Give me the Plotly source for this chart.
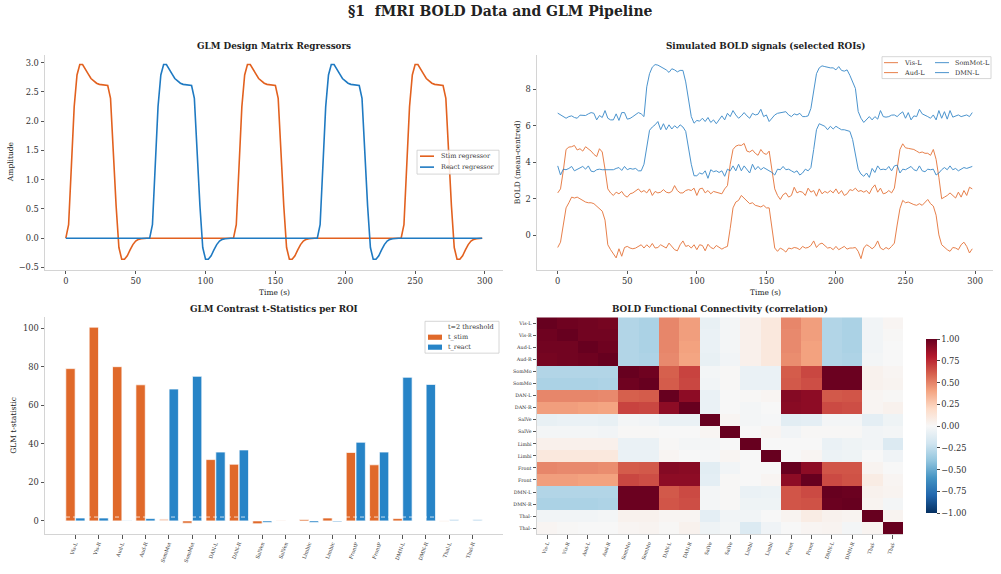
import plotly.graph_objects as go

SERIF = "DejaVu Serif"
W, H = 1001, 574

# ---------------- data ----------------
time_s = list(range(0, 300, 2))

stim_regressor = [
    0.00, 0.23, 1.24, 2.25, 2.79, 2.97, 2.97, 2.90, 2.81, 2.73,
    2.69, 2.65, 2.63, 2.62, 2.61, 2.61, 2.39, 1.45, 0.55, -0.16,
    -0.36, -0.36, -0.30, -0.20, -0.11, -0.05, -0.02, -0.01, 0.00, 0.00,
    0, 0, 0, 0, 0, 0, 0, 0, 0, 0,
    0, 0, 0, 0, 0, 0, 0, 0, 0, 0,
    0, 0, 0, 0, 0, 0, 0, 0, 0, 0,
    0.00, 0.23, 1.24, 2.25, 2.79, 2.97, 2.97, 2.90, 2.81, 2.73,
    2.69, 2.65, 2.63, 2.62, 2.61, 2.61, 2.39, 1.45, 0.55, -0.16,
    -0.36, -0.36, -0.30, -0.20, -0.11, -0.05, -0.02, -0.01, 0.00, 0.00,
    0, 0, 0, 0, 0, 0, 0, 0, 0, 0,
    0, 0, 0, 0, 0, 0, 0, 0, 0, 0,
    0, 0, 0, 0, 0, 0, 0, 0, 0, 0,
    0.00, 0.23, 1.24, 2.25, 2.79, 2.97, 2.97, 2.90, 2.81, 2.73,
    2.69, 2.65, 2.63, 2.62, 2.61, 2.61, 2.39, 1.45, 0.55, -0.16,
    -0.36, -0.36, -0.30, -0.20, -0.11, -0.05, -0.02, -0.01, 0.00, 0.00,
]
react_regressor = [
    0, 0, 0, 0, 0, 0, 0, 0, 0, 0,
    0, 0, 0, 0, 0, 0, 0, 0, 0, 0,
    0, 0, 0, 0, 0, 0, 0, 0, 0, 0,
    0.00, 0.23, 1.24, 2.25, 2.79, 2.97, 2.97, 2.90, 2.81, 2.73,
    2.69, 2.65, 2.63, 2.62, 2.61, 2.61, 2.39, 1.45, 0.55, -0.16,
    -0.36, -0.36, -0.30, -0.20, -0.11, -0.05, -0.02, -0.01, 0.00, 0.00,
    0, 0, 0, 0, 0, 0, 0, 0, 0, 0,
    0, 0, 0, 0, 0, 0, 0, 0, 0, 0,
    0, 0, 0, 0, 0, 0, 0, 0, 0, 0,
    0.00, 0.23, 1.24, 2.25, 2.79, 2.97, 2.97, 2.90, 2.81, 2.73,
    2.69, 2.65, 2.63, 2.62, 2.61, 2.61, 2.39, 1.45, 0.55, -0.16,
    -0.36, -0.36, -0.30, -0.20, -0.11, -0.05, -0.02, -0.01, 0.00, 0.00,
    0, 0, 0, 0, 0, 0, 0, 0, 0, 0,
    0, 0, 0, 0, 0, 0, 0, 0, 0, 0,
    0, 0, 0, 0, 0, 0, 0, 0, 0, 0,
]

bold_vis_l = [
    -0.67, -0.38, 0.56, 1.50, 1.78, 2.09, 2.04, 2.09, 2.00, 1.91,
    1.82, 1.78, 1.78, 1.73, 1.60, 1.46, 1.32, 0.83, -0.52, -0.79,
    -1.03, -1.24, -0.74, -1.15, -0.67, -0.61, -0.70, -0.74, -0.70, -0.61,
    -0.52, -0.70, -0.52, -0.67, -0.45, -0.70, -0.67, -0.52, -0.61, -0.70,
    -0.43, -0.61, -0.79, -0.85, -0.52, -0.31, -0.61, -0.56, -0.70, -0.52,
    -0.79, -0.52, -0.56, -0.85, -0.49, -0.67, -0.74, -0.56, -0.67, -0.76,
    -0.67, -0.61, 0.38, 1.50, 1.82, 1.91, 2.18, 2.04, 1.91, 1.73,
    1.78, 1.64, 1.60, 1.55, 1.64, 1.50, 1.50, 0.38, -0.70, -0.88,
    -0.70, -0.79, -0.92, -0.70, -0.74, -0.67, -0.70, -0.79, -0.61, -0.70,
    -0.67, -0.56, -0.31, -0.67, -0.49, -0.43, -0.56, -0.70, -0.67, -0.79,
    -0.61, -0.79, -0.70, -0.61, -0.76, -0.70, -0.70, -0.67, -0.88, -1.28,
    -0.70, -0.52, -0.61, -0.74, -0.61, -0.31, -0.70, -0.79, -0.67, -0.76,
    -0.61, -0.43, 0.56, 1.46, 1.91, 1.78, 1.82, 1.73, 1.68, 1.64,
    1.73, 1.64, 1.82, 1.96, 1.73, 1.60, 1.10, 0.02, -0.52, -0.67,
    -0.79, -0.88, -0.67, -0.70, -0.79, -0.52, -0.38, -0.61, -0.97, -0.74,
]
bold_aud_l = [
    2.32, 2.54, 3.53, 4.70, 4.83, 4.85, 4.92, 4.67, 4.74, 4.61,
    4.85, 4.74, 4.61, 4.43, 4.31, 4.74, 4.56, 3.62, 2.54, 2.32,
    2.18, 2.36, 2.27, 2.40, 2.18, 2.09, 2.27, 2.32, 2.45, 2.54,
    2.36, 2.45, 2.32, 2.54, 2.18, 2.40, 2.32, 2.36, 2.50, 2.36,
    2.32, 2.40, 2.72, 2.45, 2.32, 2.32, 2.45, 2.50, 2.45, 2.58,
    2.18, 2.54, 2.58, 2.32, 2.45, 2.27, 2.40, 2.36, 2.32, 2.27,
    2.54, 2.72, 3.89, 4.70, 4.88, 4.94, 4.92, 5.03, 4.61, 4.56,
    4.67, 4.49, 4.38, 4.70, 4.49, 4.43, 4.61, 3.62, 2.54, 2.18,
    1.96, 2.22, 2.32, 2.09, 2.18, 2.63, 2.32, 2.40, 2.36, 2.18,
    2.58, 2.36, 2.45, 2.14, 2.54, 2.27, 2.40, 2.32, 2.45, 2.32,
    2.54, 2.27, 2.45, 2.18, 2.27, 2.50, 2.45, 2.58, 2.40, 2.45,
    2.36, 2.45, 2.27, 2.58, 2.76, 2.36, 2.58, 2.27, 2.32, 2.45,
    2.32, 2.58, 3.80, 4.70, 5.01, 4.79, 4.76, 4.74, 4.70, 4.61,
    4.52, 4.56, 4.49, 4.49, 4.38, 4.70, 4.16, 3.17, 2.00, 2.09,
    2.18, 2.32, 2.18, 2.04, 2.36, 2.09, 2.45, 2.18, 2.63, 2.54,
]
bold_sommot_l = [
    3.80, 3.30, 3.62, 3.59, 3.66, 3.77, 3.53, 3.62, 3.68, 3.77,
    3.62, 3.80, 3.51, 3.48, 3.59, 3.62, 3.59, 3.59, 3.62, 3.59,
    3.59, 3.66, 3.71, 3.55, 3.77, 3.59, 3.66, 3.62, 3.66, 3.53,
    3.53, 3.89, 4.88, 5.75, 5.93, 6.05, 6.23, 5.78, 6.11, 5.78,
    6.05, 5.82, 6.00, 5.87, 6.05, 5.93, 5.69, 4.70, 3.89, 3.26,
    3.26, 3.41, 3.35, 3.53, 3.12, 3.59, 3.48, 3.53, 3.44, 3.53,
    3.23, 3.62, 3.53, 3.80, 3.53, 3.89, 3.53, 3.80, 3.62, 3.41,
    3.89, 3.59, 3.77, 3.59, 3.71, 3.62, 3.53, 3.44, 3.30, 3.62,
    3.59, 3.77, 3.59, 3.62, 3.53, 3.44, 3.53, 3.30, 3.41, 3.62,
    3.53, 3.71, 4.70, 5.78, 6.11, 6.05, 5.97, 5.78, 5.97, 5.82,
    5.97, 5.87, 5.78, 5.78, 5.73, 5.69, 5.24, 4.34, 3.62, 3.35,
    3.23, 3.41, 3.17, 3.66, 3.44, 3.80, 3.59, 3.62, 3.59, 3.77,
    3.53, 3.80, 3.84, 3.41, 3.62, 3.59, 3.66, 3.77, 3.59, 3.53,
    3.80, 3.53, 3.48, 3.62, 3.59, 3.62, 3.30, 3.41, 3.59, 3.71,
    3.59, 3.80, 3.59, 3.66, 3.53, 3.62, 3.71, 3.66, 3.71, 3.77,
]
bold_dmn_l = [
    6.69, 6.58, 6.47, 6.41, 6.50, 6.54, 6.45, 6.41, 6.58, 6.56,
    6.56, 6.65, 6.72, 6.68, 6.32, 6.56, 6.45, 6.83, 6.41, 6.32,
    6.32, 6.65, 6.29, 6.72, 6.72, 6.36, 6.40, 6.50, 6.63, 6.72,
    6.65, 6.50, 8.13, 8.85, 9.21, 9.35, 9.32, 9.24, 9.12, 9.06,
    8.92, 9.12, 9.06, 8.95, 9.03, 9.03, 8.40, 7.41, 6.50, 6.14,
    6.29, 6.25, 6.41, 6.23, 6.45, 6.18, 6.32, 6.11, 6.32, 6.54,
    6.32, 6.68, 6.50, 6.83, 6.59, 6.41, 6.54, 6.72, 6.54, 6.41,
    6.68, 6.59, 6.63, 6.90, 6.50, 6.59, 6.23, 6.41, 6.59, 6.68,
    6.72, 6.77, 6.77, 6.59, 6.50, 6.65, 6.59, 6.68, 6.50, 6.50,
    6.54, 6.95, 7.95, 8.85, 9.17, 9.28, 9.24, 9.20, 9.17, 9.17,
    9.06, 9.24, 9.03, 8.99, 9.06, 8.76, 8.40, 8.04, 6.78, 6.41,
    6.18, 6.36, 6.50, 6.32, 6.50, 6.36, 6.83, 6.50, 6.47, 6.50,
    6.58, 6.59, 6.50, 6.65, 6.76, 6.41, 6.72, 6.32, 6.54, 6.50,
    6.90, 6.65, 6.59, 6.50, 6.41, 6.59, 6.32, 6.83, 6.41, 6.77,
    6.36, 6.83, 6.47, 6.54, 6.59, 6.50, 6.54, 6.59, 6.50, 6.72,
]

roi_names = ["Vis-L", "Vis-R", "Aud-L", "Aud-R", "SomMot-L", "SomMot-R",
             "DAN-L", "DAN-R", "SalVen-L", "SalVen-R", "Limbic-L", "Limbic-R",
             "FrontPar-L", "FrontPar-R", "DMN-L", "DMN-R", "Thal-L", "Thal-R"]
bar_tick_labels = ["Vis-L", "Vis-R", "Aud-L", "Aud-R", "SomMot", "SomMot",
                   "DAN-L", "DAN-R", "SalVen", "SalVen", "Limbic", "Limbic",
                   "FrontP", "FrontP", "DMN-L", "DMN-R", "Thal-L", "Thal-R"]
heat_tick_labels = ["Vis-L", "Vis-R", "Aud-L", "Aud-R", "SomMo", "SomMo",
                    "DAN-L", "DAN-R", "SalVe", "SalVe", "Limbi", "Limbi",
                    "Front", "Front", "DMN-L", "DMN-R", "Thal-", "Thal-"]

t_stim = [79.0, 100.5, 80.0, 70.6, 1.0, -1.2, 31.8, 29.4, -1.5, 0.3,
          0.7, 1.5, 35.5, 29.1, 1.2, 0.0, -0.3, 0.0]
t_react = [1.5, 1.5, 0.1, 1.2, 68.4, 75.0, 35.7, 36.8, -0.8, 0.0,
           -0.9, -0.5, 40.8, 35.7, 74.5, 70.8, 0.8, 0.8]
stim_faded = [False, False, False, False, True, False, False, False, False, True,
              False, False, False, False, False, False, True, False]
react_faded = [False, False, False, False, False, False, False, False, False, False,
               False, False, False, False, False, False, True, True]
t_threshold = 2

corr_matrix = [
    [1.00, 0.98, 0.97, 0.96, -0.30, -0.32, 0.49, 0.42, -0.08, -0.02, 0.05, 0.11, 0.49, 0.42, -0.30, -0.32, -0.03, 0.02],
    [0.98, 1.00, 0.97, 0.97, -0.30, -0.32, 0.49, 0.42, -0.07, -0.02, 0.05, 0.11, 0.48, 0.42, -0.30, -0.32, -0.03, 0.01],
    [0.97, 0.97, 1.00, 0.98, -0.30, -0.32, 0.49, 0.41, -0.07, -0.02, 0.05, 0.11, 0.48, 0.41, -0.30, -0.32, -0.03, 0.00],
    [0.96, 0.97, 0.98, 1.00, -0.30, -0.31, 0.48, 0.40, -0.08, -0.03, 0.05, 0.11, 0.47, 0.41, -0.30, -0.31, -0.02, 0.00],
    [-0.30, -0.30, -0.30, -0.30, 1.00, 0.98, 0.60, 0.68, -0.02, 0.01, -0.07, -0.07, 0.61, 0.67, 0.99, 0.99, 0.04, 0.02],
    [-0.32, -0.32, -0.32, -0.31, 0.98, 1.00, 0.61, 0.67, -0.03, 0.01, -0.07, -0.07, 0.62, 0.65, 0.99, 0.99, 0.04, 0.03],
    [0.49, 0.49, 0.49, 0.48, 0.60, 0.61, 1.00, 0.90, -0.07, 0.00, 0.01, 0.02, 0.92, 0.90, 0.62, 0.63, 0.02, 0.01],
    [0.42, 0.42, 0.41, 0.40, 0.68, 0.67, 0.90, 1.00, -0.07, 0.00, -0.02, 0.00, 0.91, 0.90, 0.66, 0.65, 0.02, 0.04],
    [-0.08, -0.07, -0.07, -0.08, -0.02, -0.03, -0.07, -0.07, 1.00, 0.02, -0.02, -0.01, -0.11, -0.10, -0.02, -0.02, -0.10, -0.05],
    [-0.02, -0.02, -0.02, -0.03, 0.01, 0.01, 0.00, 0.00, 0.02, 1.00, 0.00, 0.02, -0.03, 0.01, 0.01, 0.01, -0.03, -0.02],
    [0.05, 0.05, 0.05, 0.05, -0.07, -0.07, 0.01, -0.02, -0.02, 0.00, 1.00, 0.00, 0.00, 0.00, -0.07, -0.05, -0.03, -0.14],
    [0.11, 0.11, 0.11, 0.11, -0.07, -0.07, 0.02, 0.00, -0.01, 0.02, 0.00, 1.00, 0.00, 0.02, -0.06, -0.05, 0.00, -0.04],
    [0.49, 0.48, 0.48, 0.47, 0.61, 0.62, 0.92, 0.91, -0.11, -0.03, 0.00, 0.00, 1.00, 0.90, 0.63, 0.63, 0.03, 0.00],
    [0.42, 0.42, 0.41, 0.41, 0.67, 0.65, 0.90, 0.90, -0.10, 0.01, 0.00, 0.02, 0.90, 1.00, 0.66, 0.64, 0.08, 0.02],
    [-0.30, -0.30, -0.30, -0.30, 0.99, 0.99, 0.62, 0.66, -0.02, 0.01, -0.07, -0.06, 0.63, 0.66, 1.00, 0.99, 0.04, 0.03],
    [-0.32, -0.32, -0.32, -0.31, 0.99, 0.99, 0.63, 0.65, -0.02, 0.01, -0.05, -0.05, 0.63, 0.64, 0.99, 1.00, 0.03, -0.02],
    [-0.03, -0.03, -0.03, -0.02, 0.04, 0.04, 0.02, 0.02, -0.10, -0.03, -0.03, 0.00, 0.03, 0.08, 0.04, 0.03, 1.00, 0.03],
    [0.02, 0.01, 0.00, 0.00, 0.02, 0.03, 0.01, 0.04, -0.05, -0.02, -0.14, -0.04, 0.00, 0.02, 0.03, -0.02, 0.03, 1.00],
]
cbar_ticks = [1.0, 0.75, 0.5, 0.25, 0.0, -0.25, -0.5, -0.75, -1.0]

# ---------------- style ----------------
ORANGE_LINE = "#E2611F"
BLUE_LINE = "#1F7AC2"
ORANGE_BAR = "#E0692A"
BLUE_BAR = "#2784C7"
RDBU_R = [[0.0, "#053061"], [0.1, "#2166ac"], [0.2, "#4393c3"], [0.3, "#92c5de"],
          [0.4, "#d1e5f0"], [0.5, "#f7f7f7"], [0.6, "#fddbc7"], [0.7, "#f4a582"],
          [0.8, "#d6604d"], [0.9, "#b2182b"], [1.0, "#67001f"]]
LEG_FONT = 6.5


def px_x(p):
    return p / W


def px_y(p):
    return 1 - p / H


fig = go.Figure()

# Panel 1: regressors
fig.add_trace(go.Scatter(x=time_s, y=stim_regressor, mode="lines", name="Stim regressor",
                         line=dict(color=ORANGE_LINE, width=1.6), xaxis="x", yaxis="y"))
fig.add_trace(go.Scatter(x=time_s, y=react_regressor, mode="lines", name="React regressor",
                         line=dict(color=BLUE_LINE, width=1.6), xaxis="x", yaxis="y"))

# Panel 2: BOLD signals
bold_series = [("Vis-L", bold_vis_l, ORANGE_LINE), ("Aud-L", bold_aud_l, ORANGE_LINE),
               ("SomMot-L", bold_sommot_l, BLUE_LINE), ("DMN-L", bold_dmn_l, BLUE_LINE)]
for name, series, col in bold_series:
    fig.add_trace(go.Scatter(x=time_s, y=series, mode="lines", name=name,
                             line=dict(color=col, width=1.0), opacity=0.8,
                             xaxis="x2", yaxis="y2"))

# Panel 3: t-statistics bars
idx = list(range(len(roi_names)))
fig.add_trace(go.Bar(x=idx, y=t_stim, name="t_stim", offset=-0.41, width=0.4,
                     marker=dict(color=ORANGE_BAR,
                                 opacity=[0.35 if f else 1.0 for f in stim_faded],
                                 line=dict(color="rgba(255,255,255,0.7)", width=1)),
                     xaxis="x3", yaxis="y3", hovertext=roi_names))
fig.add_trace(go.Bar(x=idx, y=t_react, name="t_react", offset=0.01, width=0.4,
                     marker=dict(color=BLUE_BAR,
                                 opacity=[0.35 if f else 1.0 for f in react_faded],
                                 line=dict(color="rgba(255,255,255,0.7)", width=1)),
                     xaxis="x3", yaxis="y3", hovertext=roi_names))
fig.add_trace(go.Scatter(x=[-1.3, 18.3], y=[t_threshold, t_threshold], mode="lines",
                         name="t=2 threshold", line=dict(color="white", width=1, dash="4px,3px"),
                         opacity=0.75, xaxis="x3", yaxis="y3"))

# Panel 4: correlation heatmap
fig.add_trace(go.Heatmap(z=corr_matrix, x=idx, y=idx, zmin=-1, zmax=1, colorscale=RDBU_R,
                         xaxis="x4", yaxis="y4", showscale=True,
                         colorbar=dict(x=px_x(926), xanchor="left", xpad=0,
                                       y=px_y(341), yanchor="top", ypad=0,
                                       len=175 / H, lenmode="fraction",
                                       thickness=11, thicknessmode="pixels",
                                       tickvals=cbar_ticks,
                                       ticktext=[f"{v:.2f}".replace("-", "\u2212") for v in cbar_ticks],
                                       ticks="outside", ticklen=3, tickcolor="#444",
                                       tickfont=dict(family=SERIF, size=8.3, color="#333"),
                                       outlinewidth=0)))

axis_common = dict(showline=True, linecolor="#d4d4d4", linewidth=1, ticks="outside",
                   ticklen=3.5, tickwidth=0.8, tickcolor="#555", showgrid=False,
                   zeroline=False, tickfont=dict(family=SERIF, size=8.3, color="#333"))
small_font = dict(family=SERIF, size=5, color="#333")

dom_left = [px_x(45), px_x(503)]
dom_right = [px_x(537), px_x(993)]
dom_top = [px_y(271), px_y(55)]
dom_bot = [px_y(537), px_y(319)]

fig.update_layout(
    width=W, height=H, margin=dict(l=0, r=0, t=0, b=0),
    paper_bgcolor="white", plot_bgcolor="white", barmode="overlay",
    font=dict(family=SERIF, color="#333"),
    showlegend=False,
    xaxis=dict(domain=dom_left, anchor="y", range=[-14.9, 312.9],
               tickvals=[0, 50, 100, 150, 200, 250, 300], **axis_common),
    yaxis=dict(domain=dom_top, anchor="x", range=[-0.537, 3.137],
               tickvals=[-0.5, 0, 0.5, 1.0, 1.5, 2.0, 2.5, 3.0],
               ticktext=["\u22120.5", "0.0", "0.5", "1.0", "1.5", "2.0", "2.5", "3.0"],
               **axis_common),
    xaxis2=dict(domain=dom_right, anchor="y2", range=[-14.9, 312.9],
                tickvals=[0, 50, 100, 150, 200, 250, 300], **axis_common),
    yaxis2=dict(domain=dom_top, anchor="x2", range=[-1.88, 9.89],
                tickvals=[0, 2, 4, 6, 8], **axis_common),
    xaxis3=dict(domain=dom_left, anchor="y3", range=[-1.3, 18.3],
                tickvals=idx, ticktext=bar_tick_labels, tickangle=-70,
                **{**axis_common, "tickfont": small_font}),
    yaxis3=dict(domain=dom_bot, anchor="x3", range=[-6.9, 105.6],
                tickvals=[0, 20, 40, 60, 80, 100], **axis_common),
    xaxis4=dict(domain=[px_x(537), px_x(903)], anchor="y4", range=[-0.5, 17.5],
                tickvals=idx, ticktext=heat_tick_labels, tickangle=-70,
                **{**axis_common, "tickfont": dict(family=SERIF, size=4.8, color="#333")}),
    yaxis4=dict(domain=dom_bot, anchor="x4", range=[17.5, -0.5],
                tickvals=idx, ticktext=heat_tick_labels,
                **{**axis_common, "tickfont": dict(family=SERIF, size=4.8, color="#333")}),
)

# ---------------- compact matplotlib-style legends ----------------
def legend_frame(x0, x1, y0, y1):
    fig.add_shape(type="rect", xref="paper", yref="paper",
                  x0=px_x(x0), x1=px_x(x1), y0=px_y(y1), y1=px_y(y0),
                  line=dict(color="#cccccc", width=0.8), fillcolor="rgba(255,255,255,0.85)",
                  layer="above")


def legend_line(x0, x1, y, color, width, opacity=1.0, dash="solid"):
    fig.add_shape(type="line", xref="paper", yref="paper",
                  x0=px_x(x0), x1=px_x(x1), y0=px_y(y), y1=px_y(y),
                  line=dict(color=color, width=width, dash=dash), opacity=opacity,
                  layer="above")


def legend_patch(x0, x1, y, color):
    fig.add_shape(type="rect", xref="paper", yref="paper",
                  x0=px_x(x0), x1=px_x(x1), y0=px_y(y + 2.6), y1=px_y(y - 2.6),
                  line=dict(width=0), fillcolor=color, layer="above")


def legend_text(x, y, text):
    fig.add_annotation(text=text, x=px_x(x), y=px_y(y), xref="paper", yref="paper",
                       xanchor="left", yanchor="middle", showarrow=False,
                       font=dict(family=SERIF, size=LEG_FONT, color="#333"))


# panel 1 legend
legend_frame(417, 499, 151, 175)
legend_line(420, 434, 157, ORANGE_LINE, 1.6)
legend_text(439, 157, "Stim regressor")
legend_line(420, 434, 168, BLUE_LINE, 1.6)
legend_text(439, 168, "React regressor")

# panel 2 legend (two columns)
legend_frame(882, 991, 57, 79)
for (name, _s, col), (lx, ly) in zip(bold_series, [(884, 63), (884, 73), (935, 63), (935, 73)]):
    legend_line(lx, lx + 14, ly, col, 1.0, opacity=0.8)
    legend_text(lx + 18, ly, name)

# panel 3 legend
legend_frame(425, 499, 323, 355)
legend_line(428, 442, 328.7, "white", 1, dash="dash")
legend_text(446, 328.7, "t=2 threshold")
legend_patch(428, 442, 339, ORANGE_BAR)
legend_text(446, 339, "t_stim")
legend_patch(428, 442, 349, BLUE_BAR)
legend_text(446, 349, "t_react")

annotations = [
    dict(text="\u00a71  fMRI BOLD Data and GLM Pipeline", x=0.5, y=px_y(11), size=14, bold=True),
    dict(text="GLM Design Matrix Regressors", x=px_x(274), y=px_y(46), size=8.8, bold=True),
    dict(text="Simulated BOLD signals (selected ROIs)", x=px_x(765), y=px_y(46), size=8.8, bold=True),
    dict(text="GLM Contrast t-Statistics per ROI", x=px_x(274), y=px_y(311), size=8.8, bold=True),
    dict(text="BOLD Functional Connectivity (correlation)", x=px_x(720), y=px_y(311), size=8.8, bold=True),
    dict(text="Time (s)", x=px_x(274), y=px_y(294), size=7.5),
    dict(text="Time (s)", x=px_x(765), y=px_y(294), size=7.5),
    dict(text="Amplitude", x=px_x(10), y=px_y(163), size=7.5, angle=-90),
    dict(text="BOLD (mean-centred)", x=px_x(517), y=px_y(163), size=7.5, angle=-90),
    dict(text="GLM t-statistic", x=px_x(14), y=px_y(428), size=7.5, angle=-90),
]
for a in annotations:
    fig.add_annotation(text=a["text"], x=a["x"], y=a["y"], xref="paper", yref="paper",
                       xanchor="center", yanchor="middle", showarrow=False,
                       textangle=a.get("angle", 0),
                       font=dict(family=SERIF, size=a["size"], color="#222",
                                 weight="bold" if a.get("bold") else "normal"))

fig.write_html("out.html")
